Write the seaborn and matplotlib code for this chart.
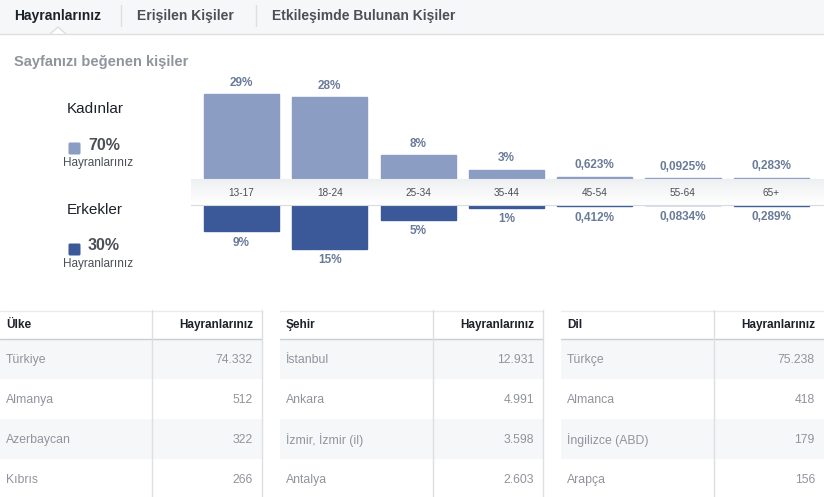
import matplotlib
matplotlib.use('Agg')
import matplotlib.pyplot as plt
import seaborn as sns
import numpy as np
from matplotlib.patches import Rectangle, FancyBboxPatch, Polygon

# Data
ages = ['13-17', '18-24', '25-34', '35-44', '45-54', '55-64', '65+']
women = [29, 28, 8, 3, 0.623, 0.0925, 0.283]
men = [9, 15, 5, 1, 0.412, 0.0834, 0.289]
women_share = 70
men_share = 30

tabs = ['Hayranlarınız', 'Erişilen Kişiler', 'Etkileşimde Bulunan Kişiler']

countries = ['Türkiye', 'Almanya', 'Azerbaycan', 'Kıbrıs']
country_fans = [74332, 512, 322, 266]
cities = ['İstanbul', 'Ankara', 'İzmir, İzmir (il)', 'Antalya']
city_fans = [12931, 4991, 3598, 2603]
languages = ['Türkçe', 'Almanca', 'İngilizce (ABD)', 'Arapça']
language_fans = [75238, 418, 179, 156]

W, H = 824, 497
FEMALE = '#8b9dc3'
MALE = '#3b5998'
LABEL = '#6a7b98'
DARK = '#1d2129'
MID = '#4b4f56'
GRAY = '#90949c'
LINE = '#dddfe2'
ROWBG = '#f6f7f9'

sns.set_style('white')
plt.rcParams['font.family'] = ['Liberation Sans', 'DejaVu Sans']


def pct(v):
    if v >= 1:
        return f'{v:g}%'
    return f'{v:g}'.replace('.', ',') + '%'


def thousands(v):
    return f'{v:,}'.replace(',', '.')


def px_axes(x0, y0, x1, y1, z):
    ax = fig.add_axes([x0 / W, 1 - y1 / H, (x1 - x0) / W, (y1 - y0) / H])
    ax.set_zorder(z)
    return ax


fig = plt.figure(figsize=(W / 100, H / 100), dpi=100)

# background canvas in pixel coordinates
bg = px_axes(0, 0, W, H, 0)
bg.set_xlim(0, W)
bg.set_ylim(H, 0)
bg.axis('off')

# tab bar
bg.add_patch(Rectangle((0, 0), W, 34, facecolor=ROWBG, edgecolor='none'))
bg.plot([0, W], [34, 34], color=LINE, lw=1)
bg.add_patch(Polygon([(50, 34.6), (58, 27), (66, 34.6)], closed=True,
                     facecolor='white', edgecolor='none'))
bg.plot([50, 58, 66], [34, 27, 34], color=LINE, lw=1)
for x in [121, 256]:
    bg.plot([x, x], [5, 26], color=LINE, lw=1)
tab_x = [14, 137, 272]
for i, (t, x) in enumerate(zip(tabs, tab_x)):
    bg.text(x, 16, t, fontsize=10, fontweight='bold',
            color=DARK if i == 0 else MID, va='center', ha='left')

bg.text(14, 62, 'Sayfanızı beğenen kişiler', fontsize=10.5, fontweight='bold',
        color=GRAY, va='center', ha='left')

# legend block
for name, share, col, y in [('Kadınlar', women_share, FEMALE, 109),
                            ('Erkekler', men_share, MALE, 210)]:
    bg.text(67, y, name, fontsize=11, color=DARK, va='center', ha='left')
    bg.add_patch(FancyBboxPatch((68.5, y + 33.5), 12, 12,
                                boxstyle='round,pad=0,rounding_size=1.5',
                                facecolor=col, edgecolor='none'))
    bg.text(88, y + 36, f'{share}%', fontsize=11.5, fontweight='bold',
            color=MID, va='center', ha='left')
    bg.text(63, y + 54, 'Hayranlarınız', fontsize=8.5, color=MID,
            va='center', ha='left')

# tables
tables = [
    (0, 152, 262, 'Ülke', countries, country_fans),
    (280, 433, 543, 'Şehir', cities, city_fans),
    (561, 714, 824, 'Dil', languages, language_fans),
]
row_top = 339
row_h = 40
for x0, xdiv, x1, head, names, vals in tables:
    for r in range(len(names)):
        y = row_top + r * row_h
        if r % 2 == 0:
            bg.add_patch(Rectangle((x0, y), x1 - x0, row_h,
                                   facecolor=ROWBG, edgecolor='none'))
        bg.text(x0 + 6, y + 21, names[r], fontsize=8.8, color=GRAY,
                va='center', ha='left')
        bg.text(x1 - 9, y + 21, thousands(vals[r]), fontsize=8.8, color=GRAY,
                va='center', ha='right')
    bg.plot([x0, x1], [310.5, 310.5], color='#e9ebee', lw=1)
    bg.plot([x0, x1], [339, 339], color='#c9ccd1', lw=1)
    bg.plot([xdiv, xdiv], [310, H], color=LINE, lw=1)
    if x1 < W:
        bg.plot([x1, x1], [310, H], color=LINE, lw=1)
    bg.text(x0 + 6, 325, head, fontsize=8.5, fontweight='bold', color=DARK,
            va='center', ha='left')
    bg.text(x1 - 9, 325, 'Hayranlarınız', fontsize=8.5, fontweight='bold',
            color=DARK, va='center', ha='right')

# age bars
step = 88.3
c0 = 241.5
xlim = ((191 - c0) / step, (824 - c0) / step)
scale = 2.9  # pixels per percent

ax_f = px_axes(191, 85, 824, 178.5, 1)
sns.barplot(x=ages, y=women, color=FEMALE, saturation=1, width=0.85,
            edgecolor=FEMALE, linewidth=1, ax=ax_f)
ax_f.set_xlim(*xlim)
ax_f.set_ylim(0, 93.5 / scale)

ax_m = px_axes(191, 205, 824, 270, 1)
sns.barplot(x=ages, y=men, color=MALE, saturation=1, width=0.85,
            edgecolor=MALE, linewidth=1, ax=ax_m)
ax_m.set_xlim(*xlim)
ax_m.set_ylim(65 / scale, 0)

for ax, vals in [(ax_f, women), (ax_m, men)]:
    ax.bar_label(ax.containers[0], labels=[pct(v) for v in vals], padding=4,
                 fontsize=8.5, fontweight='bold', color=LABEL)
    ax.axis('off')
    ax.patch.set_alpha(0)

# band with the age labels
ax_b = px_axes(191, 179, 824, 205, 2)
ax_b.set_xlim(*xlim)
grad = np.linspace(0, 1, 50).reshape(-1, 1)
ax_b.imshow(grad, aspect='auto', cmap=matplotlib.colors.LinearSegmentedColormap.from_list(
    'band', ['#ffffff', '#eff0f2']), extent=(xlim[0], xlim[1], 1, 0))
ax_b.set_ylim(0, 1)
ax_b.set_xticks([])
ax_b.set_yticks([])
for side in ['left', 'right']:
    ax_b.spines[side].set_visible(False)
ax_b.spines['top'].set_color('#eceef1')
ax_b.spines['bottom'].set_color('#d8dade')
for i, a in enumerate(ages):
    ax_b.text(i, 0.45, a, fontsize=7.2, color=MID, ha='center', va='center')

fig.savefig('out.png', dpi=100)
